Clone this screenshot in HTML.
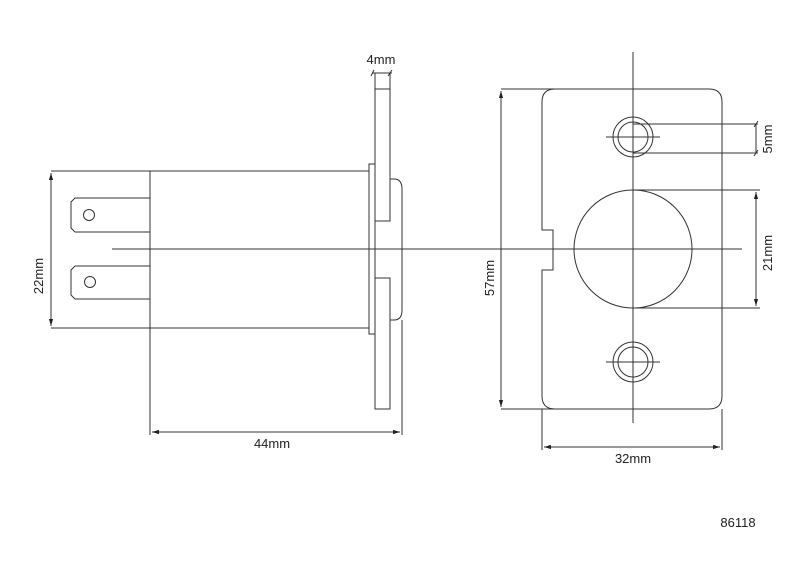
<!DOCTYPE html>
<html><head><style>html,body{margin:0;padding:0;background:#fff}svg{display:block}text{font-family:"Liberation Sans",sans-serif;font-size:13px;fill:#222}</style></head><body>
<svg width="800" height="566" viewBox="0 0 800 566" xmlns="http://www.w3.org/2000/svg">
<defs><marker id="a" viewBox="0 0 10 10" refX="10" refY="5" markerWidth="7" markerHeight="7" orient="auto-start-reverse"><path d="M0,2 L10,5 L0,8z" fill="#222"/></marker></defs>
<g fill="none" stroke="#333" stroke-width="1">
<path d="M51,171H150M51,328H150"/>
<line x1="51" y1="173" x2="51" y2="326" marker-start="url(#a)" marker-end="url(#a)"/>
<rect x="150" y="171" width="219" height="157"/>
<path d="M150,328V435M402,320V435"/>
<line x1="152" y1="432" x2="400" y2="432" marker-start="url(#a)" marker-end="url(#a)"/>
<rect x="369" y="164" width="6" height="170"/>
<path d="M375,73V221H390V73M375,89H390"/>
<rect x="375" y="278" width="15" height="131"/>
<path d="M390,179H394Q402,179 402,189V310Q402,320 394,320H390"/>
<path d="M371,76L374,70M388,76L392,70M372,73H392"/>
<path d="M150,198H75L71,202V228L75,232H150"/>
<circle cx="89" cy="215" r="5.5"/>
<path d="M150,266H75L71,270V295L75,299H150"/>
<circle cx="90" cy="282" r="5.5"/>
<line x1="112" y1="249" x2="742" y2="249"/>
<path d="M555,89H709Q722,89 722,102V396Q722,409 709,409H555Q542,409 542,396V270H553V230H542V102Q542,89 555,89Z"/>
<path d="M501,89H555M501,409H555"/>
<line x1="501" y1="91" x2="501" y2="407" marker-start="url(#a)" marker-end="url(#a)"/>
<line x1="633" y1="52" x2="633" y2="423"/>
<circle cx="633" cy="137" r="20"/><circle cx="633" cy="137" r="15"/>
<circle cx="633" cy="362" r="20"/><circle cx="633" cy="362" r="15"/>
<path d="M606,137H660M606,362H660"/>
<circle cx="633" cy="249" r="59"/>
<path d="M633,190H760M633,308H760"/>
<line x1="756" y1="192" x2="756" y2="306" marker-start="url(#a)" marker-end="url(#a)"/>
<path d="M633,124H758M633,153H758M756,124V153M754,127L758,121M754,156L758,150"/>
<path d="M542,409V450M722,409V450"/>
<line x1="544" y1="447" x2="720" y2="447" marker-start="url(#a)" marker-end="url(#a)"/>
</g>
<text x="381" y="64" text-anchor="middle">4mm</text>
<text x="272" y="448" text-anchor="middle">44mm</text>
<text x="633" y="463" text-anchor="middle">32mm</text>
<text transform="translate(43,276) rotate(-90)" text-anchor="middle">22mm</text>
<text transform="translate(494,278) rotate(-90)" text-anchor="middle">57mm</text>
<text transform="translate(772,253) rotate(-90)" text-anchor="middle">21mm</text>
<text transform="translate(772,139) rotate(-90)" text-anchor="middle">5mm</text>
<text x="738" y="527" text-anchor="middle">86118</text>
</svg>
</body></html>
